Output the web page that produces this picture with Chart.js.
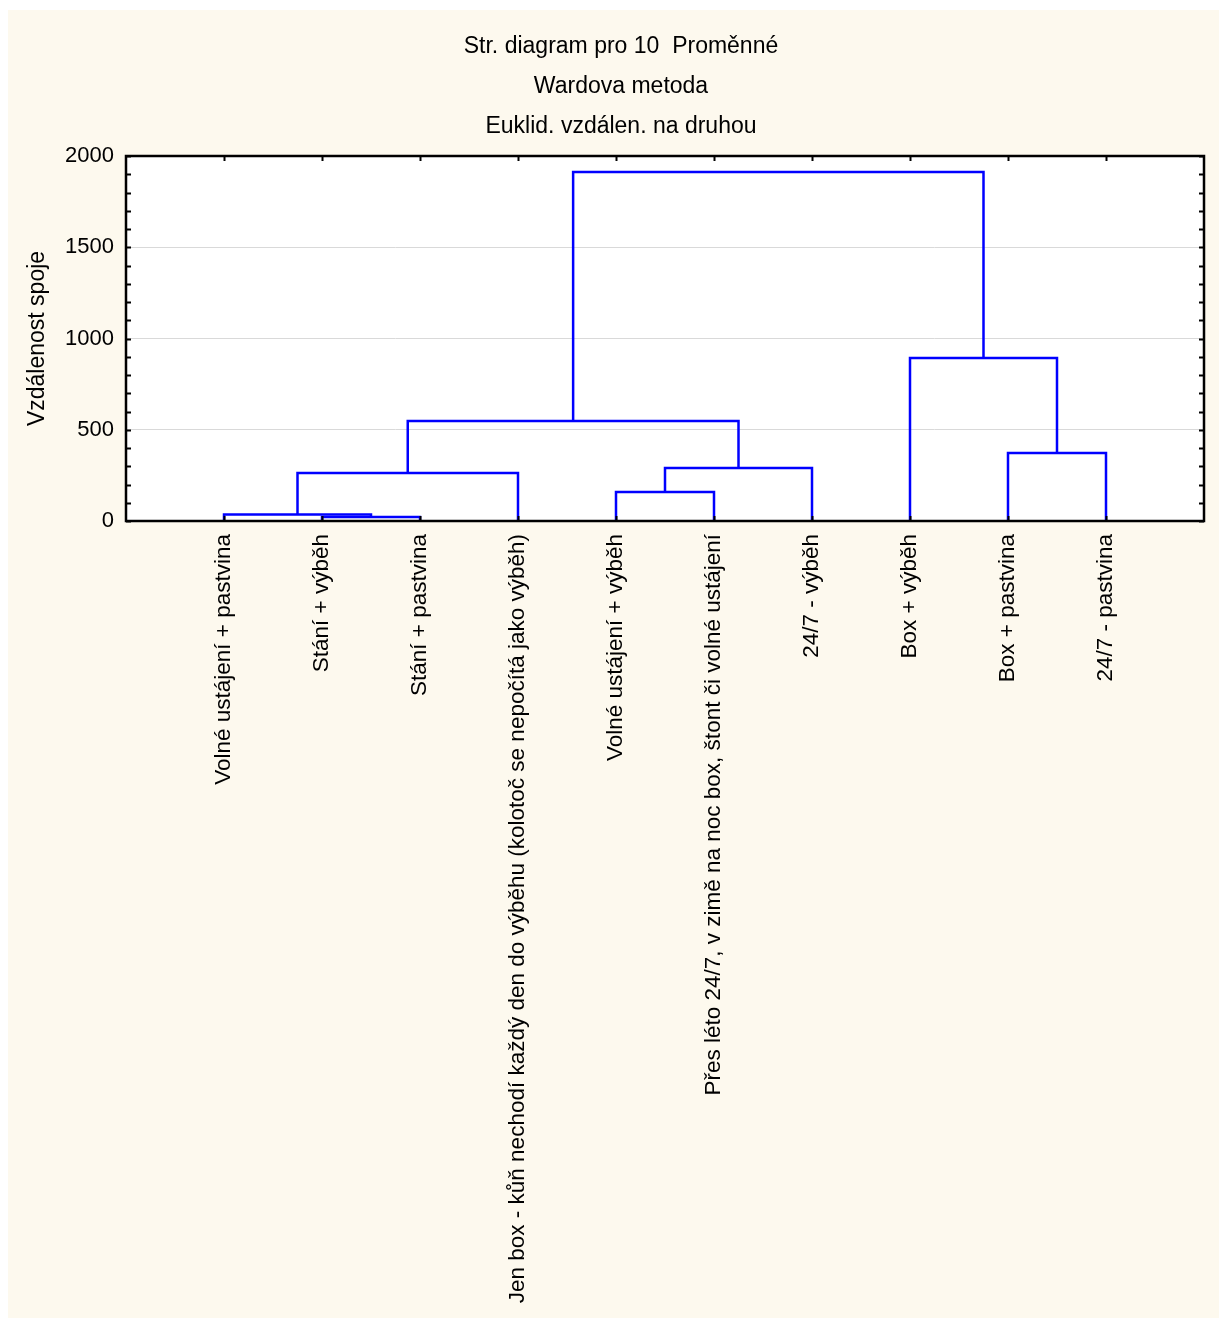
<!DOCTYPE html>
<html>
<head>
<meta charset="utf-8">
<script src="https://cdn.jsdelivr.net/npm/chart.js@4"></script>
<style>
  html, body { margin: 0; padding: 0; background: #ffffff; }
  #wrap { width: 1219px; height: 1318px; }
</style>
</head>
<body>
<div id="wrap"><canvas id="dendro" width="1219" height="1318"></canvas></div>
<script>
// Leaf labels (left to right)
const leafLabels = [
  "Volné ustájení + pastvina",
  "Stání + výběh",
  "Stání + pastvina",
  "Jen box - kůň nechodí každý den do výběhu (kolotoč se nepočítá jako výběh)",
  "Volné ustájení + výběh",
  "Přes léto 24/7, v zimě na noc box, štont či volné ustájení",
  "24/7 - výběh",
  "Box + výběh",
  "Box + pastvina",
  "24/7 - pastvina"
];

// Merges: node ids 0-9 are leaves, merge i creates node 10 + i
const mergeLeft = [1, 0, 11, 4, 13, 12, 8, 7, 15];
const mergeRight = [2, 10, 3, 5, 6, 14, 9, 16, 17];
const mergeHeight = [22, 35, 263, 159, 290, 548, 373, 893, 1912];

// Y axis
const yMin = 0;
const yMax = 2000;
const yMinorStep = 100;
const yLabelStep = 500;

const titleLines = ["Str. diagram pro 10  Proměnné", "Wardova metoda", "Euklid. vzdálen. na druhou"];
const yTitle = "Vzdálenost spoje";

const FONT = "'Liberation Sans', Arial, sans-serif";
const BLUE = "#0000ff";

// node positions: x = leaf index / midpoint of children, y = height
const nodeX = leafLabels.map((_, i) => i);
const nodeY = leafLabels.map(() => 0);
const datasets = [];
mergeLeft.forEach((l, i) => {
  const r = mergeRight[i];
  const h = mergeHeight[i];
  datasets.push({
    data: [
      { x: nodeX[l], y: nodeY[l] },
      { x: nodeX[l], y: h },
      { x: nodeX[r], y: h },
      { x: nodeX[r], y: nodeY[r] }
    ],
    showLine: true,
    borderColor: BLUE,
    borderWidth: 2.5,
    pointRadius: 0,
    tension: 0,
    fill: false
  });
  nodeX.push((nodeX[l] + nodeX[r]) / 2);
  nodeY.push(h);
});

// background, plot frame and inner tick marks
const framePlugin = {
  id: "frame",
  beforeDraw(chart) {
    const { ctx, width, height, chartArea: a } = chart;
    ctx.save();
    ctx.fillStyle = "#ffffff";
    ctx.fillRect(0, 0, width, height);
    ctx.fillStyle = "#fdf9ee";
    ctx.fillRect(8, 10, width - 8, height - 10);
    ctx.fillStyle = "#ffffff";
    ctx.fillRect(a.left, a.top, a.right - a.left, a.bottom - a.top);
    ctx.restore();
  },
  afterDatasetsDraw(chart) {
    const { ctx, chartArea: a, scales } = chart;
    ctx.save();
    ctx.strokeStyle = "#000000";
    ctx.lineWidth = 2;
    ctx.beginPath();
    scales.y.ticks.forEach(t => {
      const py = Math.round(scales.y.getPixelForValue(t.value)) + 0.5;
      ctx.moveTo(a.left, py); ctx.lineTo(a.left + 5, py);
      ctx.moveTo(a.right, py); ctx.lineTo(a.right - 5, py);
    });
    leafLabels.forEach((_, i) => {
      const px = Math.round(scales.x.getPixelForValue(i)) + 0.5;
      ctx.moveTo(px, a.top); ctx.lineTo(px, a.top + 5);
      ctx.moveTo(px, a.bottom); ctx.lineTo(px, a.bottom - 5);
    });
    ctx.stroke();
    ctx.lineWidth = 2.5;
    ctx.strokeRect(a.left, a.top, a.right - a.left, a.bottom - a.top);
    ctx.restore();
  }
};

new Chart(document.getElementById("dendro"), {
  type: "scatter",
  data: { datasets },
  plugins: [framePlugin],
  options: {
    responsive: false,
    animation: false,
    layout: { padding: { left: 24, right: 1, top: 10, bottom: 0 } },
    plugins: {
      legend: { display: false },
      tooltip: { enabled: false },
      title: {
        display: true,
        text: titleLines,
        color: "#000000",
        font: { family: FONT, size: 23, weight: "normal", lineHeight: 40 / 23 },
        padding: { top: 17, bottom: 9 }
      }
    },
    scales: {
      x: {
        type: "linear",
        min: -1,
        max: leafLabels.length,
        afterFit(scale) { scale.height = 797; },
        afterBuildTicks(scale) {
          scale.ticks = leafLabels.map((_, i) => ({ value: i }));
        },
        grid: { display: false, drawTicks: false },
        border: { display: false },
        ticks: {
          autoSkip: false,
          maxRotation: 90,
          minRotation: 90,
          padding: 13,
          color: "#000000",
          font: { family: FONT, size: 22.5 },
          callback: v => leafLabels[v] ?? ""
        }
      },
      y: {
        min: yMin,
        max: yMax,
        afterFit(scale) { scale.width = 102; },
        grid: {
          drawTicks: false,
          lineWidth: 1,
          color: c => (c.tick && c.tick.value % yLabelStep === 0 && c.tick.value > yMin && c.tick.value < yMax) ? "#d9d9d9" : "rgba(0,0,0,0)"
        },
        border: { display: false },
        title: {
          display: true,
          text: yTitle,
          color: "#000000",
          font: { family: FONT, size: 23 },
          padding: { top: 0, bottom: 0 }
        },
        ticks: {
          stepSize: yMinorStep,
          autoSkip: false,
          padding: 12,
          color: "#000000",
          font: { family: FONT, size: 22 },
          callback: v => (v % yLabelStep === 0 ? String(v) : "")
        }
      },
      y2: {
        position: "right",
        min: yMin,
        max: yMax,
        afterFit(scale) { scale.width = 14; },
        grid: { display: false, drawTicks: false },
        border: { display: false },
        ticks: { display: false }
      }
    }
  }
});
</script>
</body>
</html>
